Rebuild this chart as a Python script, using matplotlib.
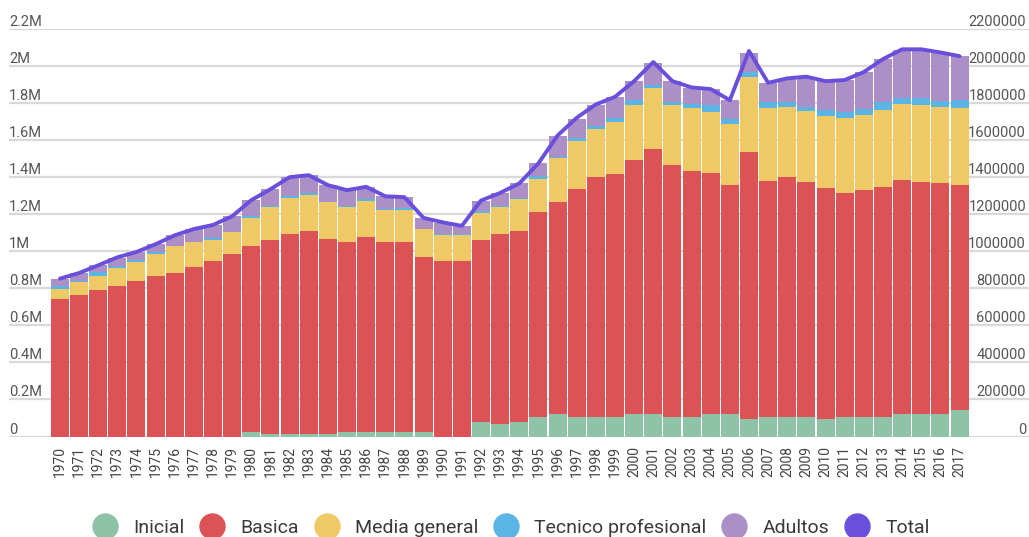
import matplotlib
matplotlib.use("Agg")
import matplotlib.pyplot as plt
from matplotlib.lines import Line2D
import numpy as np

plt.rcParams['font.family'] = ['Roboto', 'DejaVu Sans']

years = [str(y) for y in range(1970, 2018)]

# values in thousands of students
inicial = [0, 0, 0, 0, 0, 0, 0, 0, 0, 0,
           22, 16, 16, 16, 16, 27, 27, 27, 27, 22,
           0, 0, 76, 70, 76, 103, 119, 108, 108, 108,
           124, 124, 108, 108, 119, 119, 97, 108, 108, 103,
           97, 103, 103, 108, 119, 119, 124, 141]
basica = [741, 763, 790, 811, 838, 865, 882, 914, 947, 984,
          1006, 1044, 1076, 1093, 1049, 1022, 1049, 1022, 1022, 947,
          947, 947, 984, 1022, 1033, 1109, 1147, 1228, 1293, 1309,
          1368, 1428, 1358, 1325, 1304, 1239, 1439, 1271, 1293, 1271,
          1244, 1212, 1228, 1239, 1266, 1255, 1244, 1217]
media = [54, 70, 79, 97, 103, 119, 146, 135, 114, 119,
         151, 178, 195, 195, 200, 189, 195, 173, 173, 151,
         141, 141, 146, 146, 173, 178, 238, 260, 260, 281,
         297, 330, 325, 341, 330, 330, 406, 395, 379, 384,
         389, 406, 406, 416, 411, 416, 411, 416]
tecnico = [18, 5, 20, 14, 14, 11, 2, 1, 11, 1,
           11, 9, 11, 11, 4, 9, 11, 5, 11, 1,
           5, 5, 11, 5, 5, 16, 5, 16, 16, 22,
           27, 16, 16, 22, 38, 27, 27, 32, 27, 22,
           32, 32, 32, 43, 32, 38, 32, 43]
adultos = [36, 45, 36, 45, 41, 43, 58, 69, 72, 87,
           87, 88, 103, 97, 88, 83, 67, 70, 59, 59,
           59, 43, 54, 70, 81, 70, 114, 103, 114, 114,
           103, 119, 114, 87, 87, 103, 103, 103, 124, 162,
           157, 173, 200, 233, 260, 260, 265, 238]
total = [853, 883, 925, 968, 997, 1039, 1087, 1121, 1143, 1190,
         1277, 1336, 1401, 1412, 1358, 1331, 1349, 1298, 1293, 1181,
         1157, 1138, 1275, 1316, 1367, 1476, 1626, 1722, 1794, 1835,
         1920, 2023, 1920, 1886, 1877, 1817, 2083, 1911, 1935, 1944,
         1920, 1926, 1969, 2039, 2092, 2092, 2075, 2055]

series = [("Inicial", inicial, "#8ec3a7"),
          ("Basica", basica, "#dc5356"),
          ("Media general", media, "#efc966"),
          ("Tecnico profesional", tecnico, "#5ab4e4"),
          ("Adultos", adultos, "#ab8fc6")]
total_color = "#6a4fdc"

left_ticks = [0, 200, 400, 600, 800, 1000, 1200, 1400, 1600, 1800, 2000, 2200]
left_labels = ["0", "0.2M", "0.4M", "0.6M", "0.8M", "1M", "1.2M", "1.4M",
               "1.6M", "1.8M", "2M", "2.2M"]
right_labels = ["0", "200000", "400000", "600000", "800000", "1000000", "1200000",
                "1400000", "1600000", "1800000", "2000000", "2200000"]

W, H = 1029, 537
fig = plt.figure(figsize=(W / 100, H / 100), dpi=100)
ax = fig.add_axes([9 / W, (H - 436.5) / H, (W - 9) / W, (436.5 - 29.3) / H])

x = np.arange(len(years))
bottom = np.zeros(len(years))
for name, vals, col in series:
    v = np.array(vals, dtype=float) * 1000
    ax.bar(x, v, width=0.94, bottom=bottom, color=col, zorder=2, linewidth=0)
    bottom += v

ax.plot(x, np.array(total) * 1000, color=total_color, lw=2.8, zorder=3,
        solid_joinstyle='round', solid_capstyle='round')

ax.set_xlim(-2.66, 50.63)
ax.set_ylim(0, 2200000)
for s in ax.spines.values():
    s.set_visible(False)

ax.set_yticks([t * 1000 for t in left_ticks])
ax.set_yticklabels(left_labels)
ax.yaxis.grid(True, color="#d9d9d9", lw=1.6, zorder=0)
ax.set_axisbelow(True)
ax.tick_params(axis='y', length=0, pad=0, labelsize=10.5, labelcolor="#555555")
for lab in ax.get_yticklabels():
    lab.set_horizontalalignment('left')
    lab.set_verticalalignment('bottom')

ax.set_xticks(x)
ax.set_xticklabels(years, rotation=90)
ax.tick_params(axis='x', length=0, pad=7, labelsize=10, labelcolor="#444444")

ax2 = ax.twinx()
ax2.set_ylim(0, 2200000)
ax2.set_yticks([t * 1000 for t in left_ticks])
ax2.set_yticklabels(right_labels)
for s in ax2.spines.values():
    s.set_visible(False)
ax2.tick_params(axis='y', length=0, pad=-2.2, labelsize=10.5, labelcolor="#555555")
for lab in ax2.get_yticklabels():
    lab.set_horizontalalignment('right')
    lab.set_verticalalignment('bottom')

handles = [Line2D([], [], marker='o', linestyle='none', markersize=18,
                  markerfacecolor=c, markeredgecolor=c) for _, _, c in series]
handles.append(Line2D([], [], marker='o', linestyle='none', markersize=18,
                      markerfacecolor=total_color, markeredgecolor=total_color))
names = [n for n, _, _ in series] + ["Total"]
leg = fig.legend(handles, names, loc='center', bbox_to_anchor=(0.497, 1 - 528 / H),
                 ncol=6, frameon=False, fontsize=14, handlelength=1.2,
                 handletextpad=0.84, columnspacing=0.84, borderpad=0,
                 borderaxespad=0)
for t in leg.get_texts():
    t.set_color("#3a3a3a")

fig.savefig("out.png", dpi=100)
